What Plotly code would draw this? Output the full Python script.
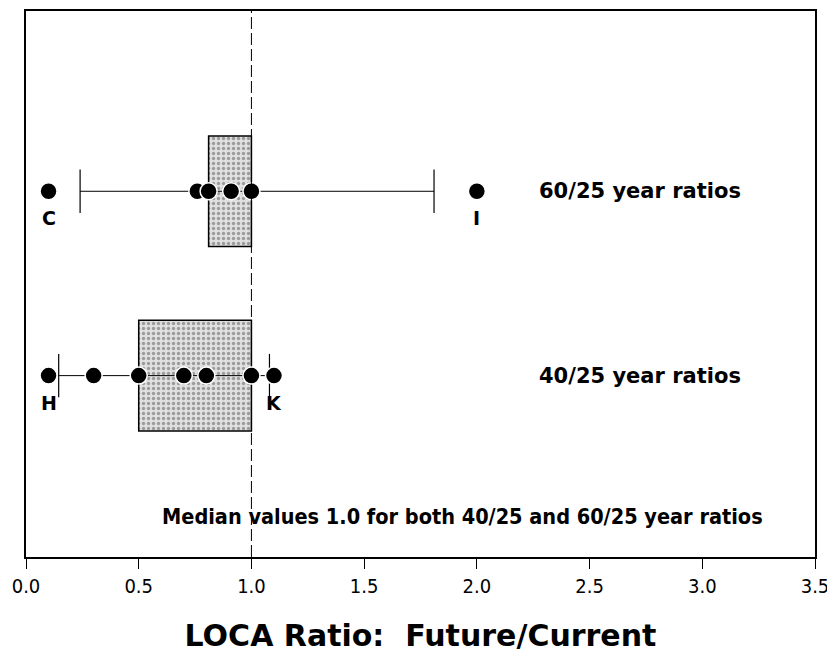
import plotly.graph_objects as go

rows = ["40/25 year ratios", "60/25 year ratios"]
q1 = [0.5, 0.81]
q3 = [1.0, 1.0]
whisker_lo = [0.145, 0.24]
whisker_hi = [1.08, 1.81]
points_40 = [0.1, 0.3, 0.5, 0.7, 0.8, 1.0, 1.1]
points_60 = [0.1, 0.76, 0.81, 0.91, 1.0, 2.0]
outlier_x = [0.1, 1.1, 0.1, 2.0]
outlier_row = [rows[0], rows[0], rows[1], rows[1]]
outlier_txt = ["H", "K", "C", "I"]
median_note = "Median values 1.0 for both 40/25 and 60/25 year ratios"

wide = "DejaVu Sans, Liberation Sans, Arial"
narrow = "DejaVu Sans Condensed, DejaVu Sans, Liberation Sans"
fig = go.Figure()

# whiskers (drawn first so the boxes cover them)
for r, lo, hi in zip(rows, whisker_lo, whisker_hi):
    fig.add_trace(go.Scatter(x=[lo, hi], y=[r, r], mode="lines",
                             line=dict(color="black", width=1), showlegend=False))
    fig.add_trace(go.Scatter(x=[lo, hi], y=[r, r], mode="markers",
                             marker=dict(symbol="line-ns", size=31,
                                         line=dict(color="black", width=1.2)),
                             showlegend=False))

# boxes
fig.add_trace(go.Bar(y=rows, x=[b - a for a, b in zip(q1, q3)], base=q1, orientation="h",
                     width=0.6, showlegend=False,
                     marker=dict(color="#dedede", line=dict(color="black", width=1.5),
                                 pattern=dict(shape=".", fgcolor="#555555", bgcolor="#e0e0e0",
                                              size=5, solidity=0.35))))

# data points
for r, pts in zip(rows, [points_40, points_60]):
    fig.add_trace(go.Scatter(x=pts, y=[r] * len(pts), mode="markers",
                             marker=dict(color="black", size=17, line=dict(color="white", width=1.5)),
                             showlegend=False))

fig.add_vline(x=1.0, line=dict(color="black", width=1, dash="12px,4px"))

for x, r, t in zip(outlier_x, outlier_row, outlier_txt):
    fig.add_annotation(x=x, y=r, text="<b>" + t + "</b>", showarrow=False, yshift=-27,
                       font=dict(family=wide, size=19, color="black"))

for r in rows:
    fig.add_annotation(x=2.265, y=r, text="<b>" + r + "</b>", showarrow=False, xanchor="left",
                       font=dict(family=wide, size=21, color="black"))

fig.add_annotation(x=3.28, y=0.047, yref="paper", text="<b>" + median_note + "</b>",
                   showarrow=False, xanchor="right",
                   font=dict(family=narrow, size=21.5, color="black"))

fig.update_layout(
    width=835, height=665,
    margin=dict(l=18, r=28, t=1, b=116),
    plot_bgcolor="white", paper_bgcolor="white",
    xaxis=dict(range=[0, 3.5], dtick=0.5, tick0=0, tickformat=".1f",
               showgrid=False, zeroline=False, showline=True, mirror=True,
               linecolor="black", linewidth=1.5, ticks="outside", ticklen=10,
               tickcolor="black",
               tickfont=dict(family=narrow, size=20, color="black"),
               title=dict(text="<b>LOCA Ratio:  Future/Current</b>", standoff=28,
                          font=dict(family=wide, size=30, color="black"))),
    yaxis=dict(type="category", categoryarray=rows, range=[-0.984, 1.978],
               showgrid=False, zeroline=False, showticklabels=False,
               showline=True, mirror=True, linecolor="black", linewidth=1.5),
)

fig.write_html("out.html")
